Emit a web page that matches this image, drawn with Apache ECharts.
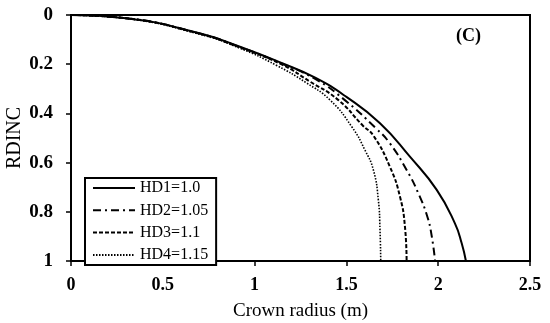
<!DOCTYPE html>
<html>
<head>
<meta charset="utf-8">
<script src="https://cdn.jsdelivr.net/npm/echarts@6/dist/echarts.min.js"></script>
<style>
  html, body { margin: 0; padding: 0; background: #fff; }
  #chart { width: 550px; height: 323px; }
</style>
</head>
<body>
<div id="chart"></div>
<script>
// series names (legend)
const seriesNames = ['HD1=1.0', 'HD2=1.05', 'HD3=1.1', 'HD4=1.15']

// crown radius (x) and RDINC (y)
const hd1X = [0, 0.3, 0.7, 0.92, 1.15, 1.33, 1.5, 1.683, 1.846, 1.992, 2.091, 2.128, 2.151]
const hd1Y = [0, 0.013, 0.074, 0.129, 0.196, 0.255, 0.333, 0.44, 0.576, 0.711, 0.847, 0.928, 1.0]

const hd2X = [0, 0.3, 0.7, 0.92, 1.15, 1.33, 1.49, 1.66, 1.737, 1.828, 1.892, 1.941, 1.965, 1.983]
const hd2Y = [0, 0.013, 0.075, 0.13, 0.198, 0.26, 0.345, 0.46, 0.522, 0.63, 0.725, 0.82, 0.9, 1.0]

const hd3X = [0, 0.3, 0.7, 0.92, 1.15, 1.3, 1.455, 1.59, 1.647, 1.737, 1.792, 1.819, 1.828]
const hd3Y = [0, 0.013, 0.076, 0.132, 0.202, 0.27, 0.345, 0.45, 0.49, 0.617, 0.739, 0.861, 1.0]

const hd4X = [0, 0.3, 0.7, 0.92, 1.12, 1.28, 1.41, 1.53, 1.601, 1.647, 1.674, 1.683, 1.687]
const hd4Y = [0, 0.014, 0.078, 0.135, 0.205, 0.275, 0.345, 0.455, 0.549, 0.63, 0.752, 0.874, 1.0]

// axis ticks
const xTicks = [0, 0.5, 1, 1.5, 2, 2.5]
const yTicks = [0, 0.2, 0.4, 0.6, 0.8, 1]

const zip = (xs, ys) => xs.map((x, i) => [x, ys[i]])

const serif = 'Liberation Serif'
const lineTypes = ['solid', [8, 4, 2, 4], [4, 2], [1.5, 1.5]]
const lineWidths = [2, 2, 2, 1.6]
const allData = [zip(hd1X, hd1Y), zip(hd2X, hd2Y), zip(hd3X, hd3Y), zip(hd4X, hd4Y)]

const option = {
  animation: false,
  backgroundColor: '#fff',
  grid: {
    left: 71,
    right: 20,
    top: 15,
    bottom: 62,
    outerBoundsMode: 'none',
    show: true,
    borderColor: '#000',
    borderWidth: 2,
  },
  legend: {
    data: seriesNames,
    orient: 'vertical',
    left: 85,
    top: 178,
    padding: [2, 8, 2, 7],
    itemWidth: 42,
    itemHeight: 12,
    itemGap: 6.3,
    borderColor: '#000',
    borderWidth: 2,
    backgroundColor: '#fff',
    itemStyle: { opacity: 0 }, // hide the circle, keep the line sample
    textStyle: { fontFamily: serif, fontSize: 16, color: '#000', lineHeight: 14 },
  },
  graphic: [
    {
      type: 'text',
      left: 456,
      top: 27,
      style: { text: '(C)', font: 'bold 18px "Liberation Serif"', fill: '#000' },
    },
  ],
  xAxis: {
    type: 'value',
    min: xTicks[0],
    max: xTicks[xTicks.length - 1],
    interval: 0.5,
    name: 'Crown radius (m)',
    nameLocation: 'middle',
    nameGap: 41,
    nameMoveOverlap: false,
    nameTextStyle: { fontFamily: serif, fontSize: 19, color: '#000' },
    axisLine: { onZero: false, lineStyle: { color: '#000', width: 2 } },
    axisTick: { length: 5, lineStyle: { color: '#000', width: 1.5 } },
    axisLabel: { margin: 15, fontFamily: serif, fontWeight: 'bold', fontSize: 18, color: '#000' },
    splitLine: { show: false },
  },
  yAxis: {
    type: 'value',
    inverse: true,
    min: yTicks[0],
    max: yTicks[yTicks.length - 1],
    interval: 0.2,
    name: 'RDINC',
    nameLocation: 'middle',
    nameGap: 46,
    nameMoveOverlap: false,
    nameTextStyle: { fontFamily: serif, fontSize: 20, color: '#000' },
    axisLine: { onZero: false, lineStyle: { color: '#000', width: 2 } },
    axisTick: { length: 5, lineStyle: { color: '#000', width: 1.5 } },
    axisLabel: { margin: 18, fontFamily: serif, fontWeight: 'bold', fontSize: 19, color: '#000' },
    splitLine: { show: false },
  },
  series: seriesNames.map((name, i) => ({
    name,
    type: 'line',
    data: allData[i],
    symbol: 'none',
    smooth: 0.5,
    lineStyle: { color: '#000', width: lineWidths[i], type: lineTypes[i] },
    itemStyle: { color: '#000' },
  })),
}

const chart = echarts.init(document.getElementById('chart'))
chart.setOption(option)
</script>
</body>
</html>
